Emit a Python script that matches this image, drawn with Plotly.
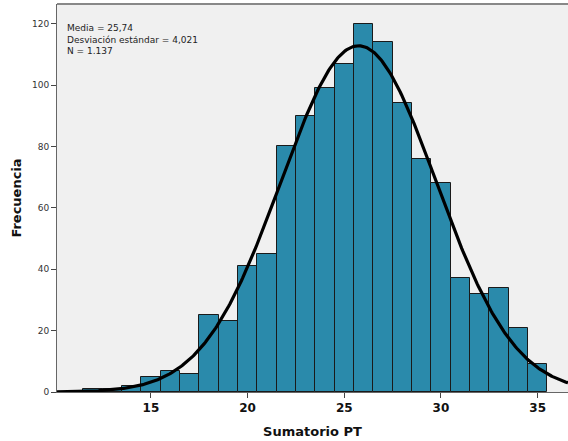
import numpy as np
import plotly.graph_objects as go

# Histogram of Sumatorio PT (bin width 1, centred on integers)
scores = [12, 13, 14, 15, 16, 17, 18, 19, 20, 21, 22, 23,
          24, 25, 26, 27, 28, 29, 30, 31, 32, 33, 34, 35]
counts = [1, 1, 2, 5, 7, 6, 25, 23, 41, 45, 80, 90,
          99, 107, 120, 114, 94, 76, 68, 37, 32, 34, 21, 9]

mean = 25.74
sd = 4.021
n = 1137
bin_width = 1.0

x_ticks = [15, 20, 25, 30, 35]
y_ticks = [0, 20, 40, 60, 80, 100, 120]

x_range = [10.145, 36.57]
y_range = [0, 126.4]

# Fitted normal curve scaled to counts
xc = np.linspace(x_range[0], x_range[1], 400)
yc = n * bin_width / (sd * np.sqrt(2 * np.pi)) * np.exp(-0.5 * ((xc - mean) / sd) ** 2)

fig = go.Figure()
fig.add_trace(go.Bar(
    x=scores, y=counts, width=1.0,
    marker=dict(color="#2a8aab", line=dict(color="#1a1a1a", width=1)),
    hoverinfo="x+y",
))
fig.add_trace(go.Scatter(
    x=xc, y=yc, mode="lines",
    line=dict(color="black", width=3.2),
    hoverinfo="skip",
))

fig.update_layout(
    width=568, height=441,
    margin=dict(l=57, r=0, t=4, b=49),
    paper_bgcolor="white",
    plot_bgcolor="#f0f0f0",
    showlegend=False,
    bargap=0,
    font=dict(family="Liberation Sans, Arial, sans-serif", color="#222"),
)

fig.update_xaxes(
    range=x_range, tickvals=x_ticks, ticktext=[f"<b>{v}</b>" for v in x_ticks],
    showgrid=False, zeroline=False,
    showline=True, linecolor="#666", linewidth=1,
    ticks="outside", ticklen=5, tickcolor="#444",
    tickfont=dict(size=12, family="DejaVu Sans, sans-serif", color="#111"),
    title=dict(text="<b>Sumatorio PT</b>", font=dict(size=13, family="DejaVu Sans, sans-serif", color="#111"), standoff=12),
)
fig.update_yaxes(
    range=y_range, tickvals=y_ticks, ticktext=[str(v) for v in y_ticks],
    showgrid=False, zeroline=False,
    showline=True, linecolor="#666", linewidth=1,
    ticks="outside", ticklen=5, tickcolor="#444",
    tickfont=dict(size=9, family="DejaVu Sans, sans-serif", color="#333"),
    title=dict(text="<b>Frecuencia</b>", font=dict(size=13, family="DejaVu Sans, sans-serif", color="#111"), standoff=7),
)

# Top frame line of the plot area
fig.add_shape(type="line", xref="paper", yref="paper", x0=0, x1=1, y0=1, y1=1,
              line=dict(color="#888", width=2))

# Summary statistics box
fig.add_annotation(
    xref="paper", yref="paper", x=0.015, y=0.955,
    xanchor="left", yanchor="top", align="left", showarrow=False,
    text="Media = 25,74<br>Desviación estándar = 4,021<br>N = 1.137",
    font=dict(size=9, family="DejaVu Sans, sans-serif", color="#222"),
)

fig.write_html("out.html")
